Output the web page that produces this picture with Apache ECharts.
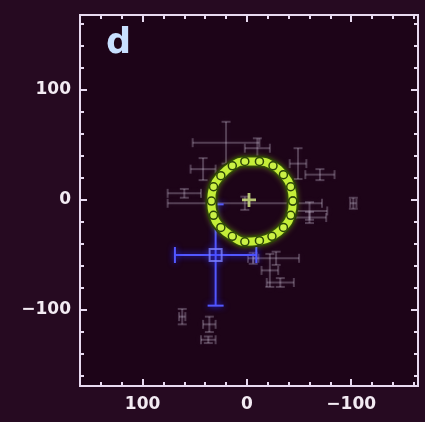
<!DOCTYPE html>
<html>
<head>
<meta charset="utf-8">
<script src="https://cdn.jsdelivr.net/npm/echarts@6/dist/echarts.min.js"></script>
<style>
  html, body { margin: 0; padding: 0; background: #260a21; }
  #chart { width: 425px; height: 422px; }
</style>
</head>
<body>
<div id="chart"></div>
<script>
// Ring of fitted positions (green), in the same units as the axes
const ringX = [-44, -42, -35, -25, -12, 2, 14, 25, 32, 34, 32, 25, 14, 2, -12, -24, -35, -42];
const ringY = [-1, 12, 23, 31, 35, 35, 31, 22, 12, -1, -14, -25, -33, -38, -37, -33, -25, -14];

// Centre of the ring (yellow cross)
const centreX = [-2];
const centreY = [0];

// Highlighted measurement with error bars (blue)
const blueX = [30];
const blueY = [-50];
const blueXErr = [39];
const blueYErr = [46];

// Other measurements with error bars (faint grey)
const faintX = [20, -10, 42, -49, -70, 2, -60, -60, -6, -28, -22, -32, 62, 36, 37, 60, -102];
const faintY = [52, 47, 28, 33, 23, -3, -10, -16, -53, -53, -64, -75, -106, -113, -127, 6, -3];
const faintXErr = [32, 12, 12, 8, 14, 74, 17, 16, 5, 22, 8, 13, 3, 6, 7, 16, 3];
const faintYErr = [19, 9, 10, 14, 5, 6, 8, 5, 5, 6, 15, 4, 7, 7, 3, 4, 5];

// Axis ticks
const xMajorTicks = [-100, 0, 100];
const yMajorTicks = [-100, 0, 100];
const xMinorTicks = [-160, -140, -120, -100, -80, -60, -40, -20, 0, 20, 40, 60, 80, 100, 120, 140, 160];
const yMinorTicks = [-160, -140, -120, -100, -80, -60, -40, -20, 0, 20, 40, 60, 80, 100, 120, 140, 160];
const panelLabel = 'd';

const X_MIN = -164, X_MAX = 160;
const Y_MIN = -169, Y_MAX = 168;

const frameColor = '#e8daf0';
const labelStyle = {
  color: '#f3ebf3', fontFamily: 'DejaVu Sans', fontWeight: 'bold', fontSize: 17
};
const fmt = v => (v < 0 ? '\u2212' + Math.abs(v) : String(v));

function xAxisDef(position, ticks, len, labels) {
  return {
    type: 'value', min: X_MIN, max: X_MAX, inverse: true, position: position,
    axisLine: { show: false, onZero: false },
    splitLine: { show: false },
    axisTick: { show: true, inside: true, length: len, customValues: ticks,
      lineStyle: { color: frameColor, width: 2 } },
    axisLabel: labels
      ? Object.assign({ show: true, customValues: ticks, margin: 10, formatter: fmt }, labelStyle)
      : { show: false }
  };
}
function yAxisDef(position, ticks, len, labels) {
  return {
    type: 'value', min: Y_MIN, max: Y_MAX, position: position,
    axisLine: { show: false, onZero: false },
    splitLine: { show: false },
    axisTick: { show: true, inside: true, length: len, customValues: ticks,
      lineStyle: { color: frameColor, width: 2 } },
    axisLabel: labels
      ? Object.assign({ show: true, customValues: ticks, margin: 9, formatter: fmt }, labelStyle)
      : { show: false }
  };
}

// Cross-shaped error bars with end caps, drawn through the axis scales
function errorBars(capPx, stroke, width, glow) {
  return function (params, api) {
    const x = api.value(0), y = api.value(1), ex = api.value(2), ey = api.value(3);
    const l = api.coord([x + ex, y]), r = api.coord([x - ex, y]);
    const t = api.coord([x, y + ey]), b = api.coord([x, y - ey]);
    const h = capPx / 2;
    const style = { stroke: stroke, lineWidth: width, fill: null,
      shadowBlur: glow ? 6 : 0, shadowColor: glow || 'transparent' };
    const seg = (x1, y1, x2, y2) => ({ type: 'line', shape: { x1, y1, x2, y2 }, style: style });
    return {
      type: 'group',
      children: [
        seg(l[0], l[1], r[0], r[1]),
        seg(t[0], t[1], b[0], b[1]),
        seg(l[0], l[1] - h, l[0], l[1] + h),
        seg(r[0], r[1] - h, r[0], r[1] + h),
        seg(t[0] - h, t[1], t[0] + h, t[1]),
        seg(b[0] - h, b[1], b[0] + h, b[1])
      ]
    };
  };
}

const ringPts = ringX.map((x, i) => [x, ringY[i]]);
const ringLoop = ringPts.concat([ringPts[0]]);
const faintData = faintX.map((x, i) => [x, faintY[i], faintXErr[i], faintYErr[i]]);
const blueData = blueX.map((x, i) => [x, blueY[i], blueXErr[i], blueYErr[i]]);

const chart = echarts.init(document.getElementById('chart'), null, { renderer: 'canvas' });
chart.setOption({
  backgroundColor: '#260a21',
  animation: false,
  grid: {
    left: 80, right: 7, top: 15, bottom: 36,
    show: true, backgroundColor: '#1d0418', borderColor: frameColor, borderWidth: 2
  },
  xAxis: [
    xAxisDef('bottom', xMajorTicks, 7, true),
    xAxisDef('bottom', xMinorTicks, 4, false),
    xAxisDef('top', xMajorTicks, 7, false),
    xAxisDef('top', xMinorTicks, 4, false)
  ],
  yAxis: [
    yAxisDef('left', yMajorTicks, 7, true),
    yAxisDef('left', yMinorTicks, 4, false),
    yAxisDef('right', yMajorTicks, 7, false),
    yAxisDef('right', yMinorTicks, 4, false)
  ],
  graphic: [{
    type: 'text', left: 106, top: 26,
    style: { text: panelLabel, fill: '#c8e0ff', font: 'bold 35px "DejaVu Sans"' }
  }],
  series: [
    {
      type: 'custom', name: 'others', data: faintData,
      renderItem: errorBars(9, 'rgba(218,208,230,0.28)', 2, 'rgba(218,208,230,0.3)'),
      encode: { x: 0, y: 1 }, z: 2
    },
    {
      type: 'custom', name: 'selected', data: blueData,
      renderItem: errorBars(16, '#5358ff', 2, '#2a2cff'),
      encode: { x: 0, y: 1 }, z: 3
    },
    {
      type: 'scatter', data: blueData.map(d => [d[0], d[1]]),
      symbol: 'rect', symbolSize: 12,
      itemStyle: { color: 'rgba(0,0,0,0)', borderColor: '#7b80ff', borderWidth: 2,
        shadowBlur: 6, shadowColor: '#3a3cff' },
      z: 4
    },
    {
      // dark outline under the ring
      type: 'line', data: ringLoop, smooth: true, symbol: 'none',
      lineStyle: { color: '#0b1200', width: 12 }, z: 5
    },
    {
      type: 'line', data: ringLoop, smooth: true,
      symbol: 'circle', symbolSize: 8,
      lineStyle: { color: '#c4ee38', width: 8, shadowBlur: 6, shadowColor: 'rgba(180,240,40,0.6)' },
      itemStyle: { color: '#cbf146', borderColor: '#2c4608', borderWidth: 1.5 },
      z: 6
    },
    {
      type: 'scatter', data: centreX.map((x, i) => [x, centreY[i]]),
      symbol: 'path://M4,0H6V4H10V6H6V10H4V6H0V4H4Z', symbolSize: 14,
      itemStyle: { color: '#dcf28a' }, z: 7
    }
  ]
});
</script>
</body>
</html>
